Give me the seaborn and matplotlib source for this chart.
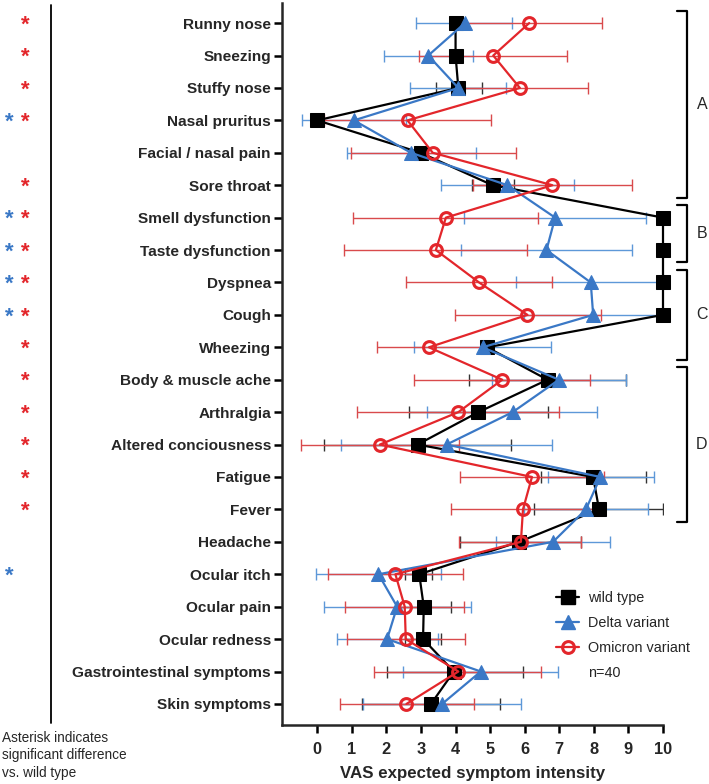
import numpy as np
import pandas as pd
import seaborn as sns
import matplotlib.pyplot as plt
import matplotlib.transforms as mtransforms
from matplotlib.lines import Line2D

# symptom categories, top to bottom
symptoms = ["Runny nose", "Sneezing", "Stuffy nose", "Nasal pruritus",
            "Facial / nasal pain", "Sore throat", "Smell dysfunction",
            "Taste dysfunction", "Dyspnea", "Cough", "Wheezing",
            "Body & muscle ache", "Arthralgia", "Altered conciousness",
            "Fatigue", "Fever", "Headache", "Ocular itch", "Ocular pain",
            "Ocular redness", "Gastrointestinal symptoms", "Skin symptoms"]

# means
wild_mean = [4.0, 4.0, 4.08, 0.0, 2.99, 5.07, 10.0, 10.0, 10.0, 10.0, 4.91,
             6.66, 4.66, 2.90, 7.98, 8.15, 5.84, 2.95, 3.08, 3.06, 3.95, 3.29]
delta_mean = [4.27, 3.21, 4.08, 1.06, 2.71, 5.50, 6.88, 6.63, 7.91, 7.98, 4.78,
              6.99, 5.65, 3.74, 8.19, 7.77, 6.82, 1.77, 2.31, 2.02, 4.73, 3.61]
omicron_mean = [6.13, 5.09, 5.86, 2.61, 3.34, 6.80, 3.72, 3.43, 4.68, 6.08, 3.23,
                5.35, 4.08, 1.81, 6.21, 5.95, 5.89, 2.26, 2.53, 2.56, 4.08, 2.58]

# error bar ends (low, high)
wild_lo = [4.0, 4.0, 3.42, 0.0, 2.99, 4.48, 10.0, 10.0, 10.0, 9.88, 4.91,
           4.38, 2.64, 0.20, 6.47, 6.27, 4.12, 2.53, 2.30, 2.53, 2.03, 1.30]
wild_hi = [4.0, 4.0, 4.76, 0.0, 2.99, 5.69, 10.0, 10.0, 10.0, 10.0, 4.91,
           8.94, 6.68, 5.60, 9.52, 10.0, 7.62, 3.31, 3.86, 3.59, 5.94, 5.28]
delta_lo = [2.85, 1.94, 2.69, -0.45, 0.85, 3.59, 4.25, 4.17, 5.76, 5.98, 2.79,
            5.04, 3.16, 0.70, 6.66, 5.97, 5.18, -0.05, 0.20, 0.56, 2.49, 1.33]
delta_hi = [5.64, 4.49, 5.47, 2.57, 4.58, 7.43, 9.51, 9.09, 10.0, 10.0, 6.75,
            8.92, 8.10, 6.80, 9.74, 9.57, 8.46, 3.59, 4.46, 3.50, 6.97, 5.89]
omicron_lo = [4.0, 2.95, 3.89, 0.20, 0.97, 4.49, 1.04, 0.78, 2.56, 3.98, 1.72,
              2.79, 1.16, -0.48, 4.13, 3.86, 4.10, 0.30, 0.80, 0.85, 1.65, 0.66]
omicron_hi = [8.25, 7.21, 7.83, 5.02, 5.74, 9.11, 6.39, 6.08, 6.80, 8.22, 4.74,
              7.89, 6.98, 4.10, 8.29, 8.03, 7.62, 4.22, 4.23, 4.28, 6.47, 4.53]

# significance markers vs wild type
delta_sig = [3, 6, 7, 8, 9, 17]
omicron_sig = [0, 1, 2, 3, 5, 6, 7, 8, 9, 10, 11, 12, 13, 14, 15]

# symptom groups on the right
groups = [("A", 0, 5), ("B", 6, 7), ("C", 8, 10), ("D", 11, 15)]

sns.set_style("ticks")
plt.rcParams["font.family"] = ["Liberation Sans", "DejaVu Sans"]

fig = plt.figure(figsize=(7.09, 7.84), dpi=100)
ax = fig.add_axes([282 / 709, 1 - 725 / 784, 381 / 709, 722 / 784])

pos = np.arange(len(symptoms))
series = [
    ("wild type", wild_mean, wild_lo, wild_hi, "black", "#333333",
     dict(marker="s", markersize=10, markerfacecolor="black", markeredgecolor="black")),
    ("Delta variant", delta_mean, delta_lo, delta_hi, "#3a78c6", "#5d98d8",
     dict(marker="^", markersize=10.5, markerfacecolor="#3a78c6", markeredgecolor="#3a78c6")),
    ("Omicron variant", omicron_mean, omicron_lo, omicron_hi, "#e3262b", "#d94a4c",
     dict(marker="o", markersize=8.5, markerfacecolor="none", markeredgecolor="#e3262b",
          markeredgewidth=2.2)),
]

# error bars first, underneath
for name, m, lo, hi, col, ecol, mk in series:
    m = np.array(m)
    ax.errorbar(m, pos, xerr=[m - np.array(lo), np.array(hi) - m], fmt="none",
                ecolor=ecol, elinewidth=1.0, capsize=4.5, capthick=1.0, zorder=1)

handles = []
for i, (name, m, lo, hi, col, ecol, mk) in enumerate(series):
    df = pd.DataFrame({"value": m, "pos": pos})
    sns.lineplot(data=df, x="value", y="pos", orient="y", sort=False, estimator=None,
                 color=col, linewidth=1.6, ax=ax, zorder=3 + i, clip_on=False, **mk)
    handles.append(Line2D([], [], color=col, linewidth=1.6, **mk))

ax.set_xlim(-1.02, 10)
ax.set_ylim(21.65, -0.62)
ax.set_xticks(range(0, 11))
ax.set_yticks(pos)
ax.set_yticklabels(symptoms, fontweight="bold", fontsize=11.1)
ax.set_xticklabels([str(v) for v in range(0, 11)], fontweight="bold", fontsize=11.8)
ax.set_ylabel("")
ax.set_xlabel("VAS expected symptom intensity", fontweight="bold", fontsize=12.2, labelpad=7)
sns.despine(ax=ax)
for s in ["left", "bottom"]:
    ax.spines[s].set_linewidth(1.8)
ax.tick_params(axis="both", length=6, width=1.8, color="black", pad=2)
ax.tick_params(axis="x", pad=6)

# legend
handles.append(Line2D([], [], color="none"))
leg = ax.legend(handles, ["wild type", "Delta variant", "Omicron variant", "n=40"],
                loc="upper left", bbox_to_anchor=(0.685, 0.203), frameon=False,
                handlelength=1.6, fontsize=10.4, labelspacing=0.74, handletextpad=0.6)

# group brackets on the right
tr = mtransforms.blended_transform_factory(ax.transAxes, ax.transData)
for lab, a, b in groups:
    y0, y1 = a - 0.38, b + 0.38
    ax.plot([1.037, 1.063, 1.063, 1.037], [y0, y0, y1, y1], color="black",
            linewidth=1.6, transform=tr, clip_on=False)
    ax.text(1.102, (y0 + y1) / 2, lab, transform=tr, fontsize=11.5,
            ha="center", va="center")

# asterisks on the left
ftr = mtransforms.blended_transform_factory(fig.transFigure, ax.transData)
for i in delta_sig:
    fig.text(9 / 709, i + 0.06, "*", color="#3a78c6", fontsize=16, fontweight="bold",
             ha="center", va="center", transform=ftr)
for i in omicron_sig:
    fig.text(25 / 709, i + 0.06, "*", color="#e3262b", fontsize=16, fontweight="bold",
             ha="center", va="center", transform=ftr)

fig.add_artist(Line2D([51 / 709, 51 / 709], [1 - 5 / 784, 1 - 723 / 784],
                      color="black", linewidth=1.3, transform=fig.transFigure))
fig.text(2 / 709, 1 - 731 / 784, "Asterisk indicates\nsignificant difference\nvs. wild type",
         fontsize=9.8, ha="left", va="top", linespacing=1.3)

fig.savefig("out.png", dpi=100)
